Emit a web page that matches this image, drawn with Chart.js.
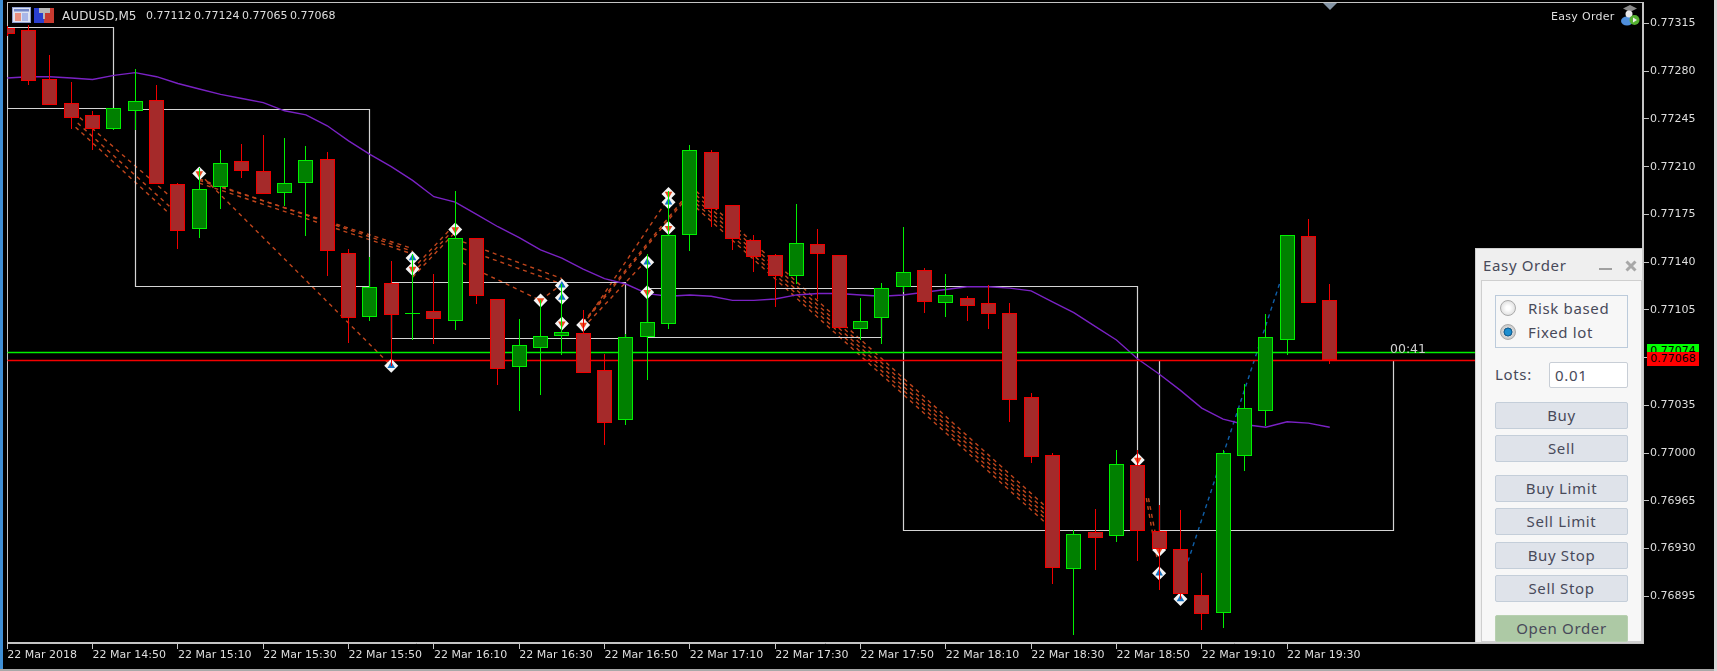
<!DOCTYPE html>
<html>
<head>
<meta charset="utf-8">
<title>AUDUSD,M5</title>
<script src="https://cdn.jsdelivr.net/npm/chart.js@4"></script>
<style>
    html, body { margin: 0; padding: 0; background: #000; }
    #wrap { position: relative; width: 1717px; height: 671px; overflow: hidden; background: #000; }
    #wrap canvas { position: absolute; left: 0; top: 0; }
    .abs { position: absolute; white-space: nowrap; }
    .chart-text { font: 11px "DejaVu Sans", sans-serif; color: #dedede; line-height: 14px; }
    .panel-text { font: 15px "Noto Sans", sans-serif; color: #484a5a; letter-spacing: 0.65px; }
    .btn { position: absolute; left: 1495px; width: 131px; height: 25px; background: #dfe3ea; border: 1px solid #c4ced9;
           border-radius: 2px; text-align: center; line-height: 24px; }
    .tag { position: absolute; left: 1647px; width: 52px; font: 11px "DejaVu Sans", sans-serif; color: #000; text-align: center; }
    .radio { position: absolute; left: 1500px; width: 16px; height: 16px; border-radius: 50%; box-sizing: border-box; border: 1px solid #aaa; }
</style>
</head>
<body>
<div id="wrap">
    <canvas id="chart" width="1717" height="671"></canvas>

    <div class="abs" style="left:0;top:0;width:3px;height:671px;background:#3f8fd6"></div>
    <div class="abs" style="left:0;top:669px;width:1717px;height:2px;background:#a8a8a8"></div>
    <div class="abs" style="left:1714px;top:0;width:3px;height:671px;background:#d8d8d8"></div>

    <svg class="abs" style="left:12px;top:7px" width="44" height="17">
        <rect x="0.5" y="0.5" width="18" height="15" fill="#dde3f2" stroke="#8f9fd0"/>
        <rect x="2" y="2" width="15" height="2.5" fill="#7186c8"/>
        <rect x="3" y="6" width="6" height="8" fill="#e88f80"/>
        <rect x="10" y="6" width="6" height="8" fill="#a9b7e8"/>
        <rect x="22" y="1" width="10" height="15" fill="#2a3fd0"/>
        <rect x="32" y="1" width="10" height="15" fill="#c83a30"/>
        <rect x="27" y="1" width="11" height="5" fill="#b8b8b8"/>
        <rect x="31" y="6" width="2" height="6" fill="#b8b8b8"/>
    </svg>
    <svg class="abs" style="left:1620px;top:4px" width="21" height="22">
        <polygon points="10,1 17,4.5 10,8 3,4.5" fill="#8a8a8a"/>
        <ellipse cx="7" cy="17" rx="6" ry="4.5" fill="#4f8fdc"/>
        <circle cx="9" cy="10" r="3.5" fill="#e8e8e8"/>
        <circle cx="14.5" cy="16" r="5" fill="#55b030"/>
        <polygon points="13,13.5 17,16 13,18.5" fill="#f0f0f0"/>
    </svg>
    <svg class="abs" style="left:1323px;top:3px" width="14" height="7"><polygon points="0,0 14,0 7,7" fill="#8494a4"/></svg>

    <div class="abs chart-text" style="left:62px;top:9px;font-size:12px;letter-spacing:0.1px">AUDUSD,M5</div>
    <div class="abs chart-text" style="left:146px;top:9px;word-spacing:-1px">0.77112 0.77124 0.77065 0.77068</div>
    <div class="abs chart-text" style="left:1551px;top:10px;letter-spacing:0.3px">Easy Order</div>
    <div class="abs chart-text" style="left:1390px;top:342px;font-size:12.5px;color:#d0d0d0">00:41</div>

    <div class="tag" style="top:344px;height:13px;line-height:13px;background:#00ff00">0.77074</div>
    <div class="tag" style="top:352px;height:14px;line-height:14px;background:#ff0000">0.77068</div>

    <div class="abs" style="left:1475px;top:248px;width:168px;height:395px;background:#efefef;border:1px solid #d0d0d0;box-sizing:border-box"></div>
    <div class="abs" style="left:1481px;top:280px;width:161px;height:362px;background:#f7f7f7;border:1px solid #cfcfcf;box-sizing:border-box"></div>
    <div class="abs panel-text" style="left:1483px;top:255px">Easy Order</div>
    <div class="abs" style="left:1599px;top:268px;width:13px;height:2px;background:#a0a0a0"></div>
    <svg class="abs" style="left:1625px;top:260px" width="12" height="12">
        <path d="M1.5 1.5 L10.5 10.5 M10.5 1.5 L1.5 10.5" stroke="#a8a8a8" stroke-width="3"/>
    </svg>

    <div class="abs" style="left:1495px;top:295px;width:133px;height:53px;border:1px solid #bccbdb;box-sizing:border-box"></div>
    <div class="radio" style="top:300px;background:radial-gradient(circle,#fff 20%,#ddd 80%)"></div>
    <div class="radio" style="top:324px;background:radial-gradient(circle,#1d8fd0 28%,#0b4f80 42%,#d8d8d8 48%,#bbb 90%)"></div>
    <div class="abs panel-text" style="left:1528px;top:298px">Risk based</div>
    <div class="abs panel-text" style="left:1528px;top:322px">Fixed lot</div>

    <div class="abs panel-text" style="left:1495px;top:364px">Lots:</div>
    <div class="abs panel-text" style="left:1549px;top:362px;width:79px;height:26px;background:#fff;border:1px solid #c8ced6;box-sizing:border-box;padding-left:5px;line-height:25px;border-radius:2px">0.01</div>

    <div class="btn panel-text" style="top:402px">Buy</div>
    <div class="btn panel-text" style="top:435px">Sell</div>
    <div class="btn panel-text" style="top:475px">Buy Limit</div>
    <div class="btn panel-text" style="top:508px">Sell Limit</div>
    <div class="btn panel-text" style="top:542px">Buy Stop</div>
    <div class="btn panel-text" style="top:575px">Sell Stop</div>
    <div class="btn panel-text" style="top:615px;background:#adc9a5;border-color:#b7d0b0">Open Order</div>
</div>

<script>
// bars are counted from 14:30, one every 5 minutes
const opens  = [0.77312,0.77310,0.77274,0.77257,0.77248,0.77238,0.77251,0.77259,0.77197,0.77164,0.77195,0.77214,0.77207,0.77191,0.77198,0.77216,0.77147,0.77100,0.77125,0.77102,0.77104,0.77097,0.77158,0.77113,0.77063,0.77077,0.77086,0.77088,0.77061,0.77024,0.77085,0.77095,0.77160,0.77221,0.77182,0.77156,0.77145,0.77130,0.77153,0.77145,0.77091,0.77099,0.77122,0.77134,0.77110,0.77114,0.77110,0.77103,0.77041,0.76999,0.76915,0.76942,0.76939,0.76991,0.76943,0.76930,0.76896,0.76883,0.76998,0.77031,0.77083,0.77159,0.77112];
const highs  = [0.77313,0.77314,0.77292,0.77272,0.77251,0.77253,0.77282,0.77270,0.77198,0.77209,0.77222,0.77227,0.77233,0.77231,0.77225,0.77221,0.77150,0.77144,0.77141,0.77146,0.77131,0.77192,0.77158,0.77113,0.77098,0.77112,0.77124,0.77105,0.77073,0.77087,0.77146,0.77192,0.77226,0.77222,0.77182,0.77160,0.77146,0.77183,0.77164,0.77145,0.77114,0.77125,0.77166,0.77136,0.77131,0.77115,0.77123,0.77110,0.77044,0.77000,0.76944,0.76959,0.77002,0.77002,0.76962,0.76958,0.76912,0.77002,0.77051,0.77102,0.77160,0.77172,0.77124];
const lows   = [0.77306,0.77270,0.77255,0.77238,0.77222,0.77237,0.77237,0.77197,0.77150,0.77158,0.77179,0.77202,0.77190,0.77181,0.77159,0.77130,0.77081,0.77097,0.77064,0.77083,0.77080,0.77090,0.77109,0.77050,0.77031,0.77043,0.77072,0.77059,0.77006,0.77021,0.77054,0.77091,0.77148,0.77166,0.77149,0.77133,0.77107,0.77124,0.77113,0.77091,0.77083,0.77080,0.77118,0.77103,0.77100,0.77097,0.77091,0.77023,0.76993,0.76904,0.76867,0.76914,0.76935,0.76921,0.76900,0.76893,0.76870,0.76872,0.76987,0.77020,0.77072,0.77110,0.77065];
const closes = [0.77307,0.77273,0.77255,0.77246,0.77238,0.77253,0.77258,0.77197,0.77163,0.77194,0.77213,0.77207,0.77190,0.77198,0.77215,0.77148,0.77099,0.77122,0.77101,0.77103,0.77098,0.77158,0.77115,0.77062,0.77079,0.77086,0.77089,0.77059,0.77022,0.77085,0.77096,0.77160,0.77222,0.77179,0.77157,0.77144,0.77130,0.77154,0.77146,0.77092,0.77097,0.77121,0.77133,0.77111,0.77116,0.77108,0.77102,0.77039,0.76997,0.76916,0.76941,0.76938,0.76992,0.76943,0.76930,0.76897,0.76882,0.77000,0.77033,0.77085,0.77160,0.77110,0.77068];
const maValues = [0.77275,0.77276,0.77276,0.77275,0.77274,0.77277,0.77279,0.77276,0.77271,0.77267,0.77263,0.77260,0.77257,0.77251,0.77248,0.77240,0.77229,0.77219,0.77210,0.77200,0.77188,0.77184,0.77175,0.77166,0.77158,0.77149,0.77143,0.77135,0.77128,0.77124,0.77117,0.77115,0.77116,0.77115,0.77112,0.77112,0.77113,0.77116,0.77117,0.77117,0.77116,0.77115,0.77116,0.77118,0.77120,0.77122,0.77122,0.77121,0.77119,0.77111,0.77103,0.77093,0.77083,0.77069,0.77058,0.77046,0.77033,0.77025,0.77021,0.77019,0.77023,0.77022,0.77019];

const timeTickIdx = [0,4,8,12,16,20,24,28,32,36,40,44,48,52,56,60];
const timeTickLabels = ['22 Mar 2018','22 Mar 14:50','22 Mar 15:10','22 Mar 15:30','22 Mar 15:50','22 Mar 16:10','22 Mar 16:30','22 Mar 16:50','22 Mar 17:10','22 Mar 17:30','22 Mar 17:50','22 Mar 18:10','22 Mar 18:30','22 Mar 18:50','22 Mar 19:10','22 Mar 19:30'];
const priceTicks = [0.77315,0.77280,0.77245,0.77210,0.77175,0.77140,0.77105,0.77070,0.77035,0.77000,0.76965,0.76930,0.76895];

const askPrice = 0.77074;
const bidPrice = 0.77068;

// white boxes between zigzag points
const boxLeft   = [0,6,18,30,42,54];
const boxRight  = [5,17,29,41,53,65];
const boxTop    = [0.77312,0.77252,0.77125,0.77121,0.77122,0.77068];
const boxBottom = [0.77253,0.77122,0.77084,0.77085,0.76943,0.76943];

// dashed order lines, orange
const sellFromIdx   = [9,9,9,9,3.3,3.4,3.2,19,19,19,21,21,21,25,27,27,27,27,32.3,32.3,32.3,32.3,32.3,53.4,53.5];
const sellFromPrice = [0.77205,0.77201,0.77200,0.77198,0.77242,0.77246,0.77239,0.77132,0.77135,0.77129,0.77157,0.77152,0.77142,0.77112,0.77094,0.77092,0.77096,0.77095,0.77192,0.77189,0.77186,0.77183,0.77180,0.76967,0.76967];
const sellToIdx     = [18,19,19,19,7.6,7.8,7.5,21,21,21,26,26,25,26,31,30,32,32,48.6,48.6,48.6,48.6,48.6,53.9,54];
const sellToPrice   = [0.77064,0.77148,0.77150,0.77146,0.77181,0.77186,0.77177,0.77165,0.77168,0.77162,0.77128,0.77124,0.77112,0.77124,0.77187,0.77142,0.77192,0.77190,0.76962,0.76959,0.76956,0.76953,0.76950,0.76923,0.76927];
// dashed order line, blue
const buyFromIdx = [55];
const buyFromPrice = [0.76904];
const buyToIdx = [60];
const buyToPrice = [0.77141];

// order arrows
const sellMarkIdx   = [9,19,21,25,26,27,30,31,31,53,54];
const sellMarkPrice = [0.77205,0.77135,0.77164,0.77112,0.77095,0.77094,0.77118,0.77190,0.77165,0.76995,0.76929];
const buyMarkIdx    = [18,19,26,26,30,31,54,55];
const buyMarkPrice  = [0.77064,0.77143,0.77123,0.77114,0.77140,0.77184,0.76912,0.76893];

const BULL_FILL = '#008000';
const BULL_LINE = '#00f000';
const BEAR_FILL = '#a52a2a';
const BEAR_LINE = '#f00000';

const isUp = i => closes[i] >= opens[i];
const lineOnly = { type: 'line', pointRadius: 0, fill: false, tension: 0 };

// MT4 draws on whole pixels, so nudge the flagged marks onto the grid
const snapPlugin = {
    id: 'snap',
    afterDatasetsUpdate(chart) {
        chart.data.datasets.forEach((ds, i) => {
            if (!ds.snap) return;
            chart.getDatasetMeta(i).data.forEach(el => {
                el.x = Math.floor(el.x) + 0.5;
                if (ds.type === 'bar') {
                    el.y = Math.round(el.y);
                    el.base = Math.round(el.base);
                } else {
                    el.y = Math.floor(el.y) + 0.5;
                }
            });
        });
    }
};

const framePlugin = {
    id: 'frame',
    beforeDatasetsDraw(chart) {
        const { ctx, chartArea: a } = chart;
        ctx.save();
        ctx.strokeStyle = '#c4c4c4';
        ctx.lineWidth = 1;
        ctx.strokeRect(7.5, 2.5, a.right - 8, a.bottom - 3);
        ctx.restore();
    }
};

const wickData = opens.map((o, i) => ({ x: i, y: [lows[i], highs[i]] }));
const bodyData = opens.map((o, i) => ({ x: i, y: [o, closes[i]] }));

const datasets = [
    ...sellFromIdx.map((x, i) => ({
        ...lineOnly, order: 6, borderColor: '#c0451c', borderWidth: 1.4, borderDash: [4, 4],
        data: [{ x, y: sellFromPrice[i] }, { x: sellToIdx[i], y: sellToPrice[i] }]
    })),
    ...buyFromIdx.map((x, i) => ({
        ...lineOnly, order: 6, borderColor: '#0f5fa8', borderWidth: 1.4, borderDash: [4, 4],
        data: [{ x, y: buyFromPrice[i] }, { x: buyToIdx[i], y: buyToPrice[i] }]
    })),
    ...boxLeft.map((l, i) => ({
        ...lineOnly, order: 5, snap: true, borderColor: '#d4d4d4', borderWidth: 1.2,
        data: [
            { x: l, y: boxTop[i] }, { x: boxRight[i], y: boxTop[i] },
            { x: boxRight[i], y: boxBottom[i] }, { x: l, y: boxBottom[i] }, { x: l, y: boxTop[i] }
        ]
    })),
    { ...lineOnly, order: 4, borderColor: '#7a22c4', borderWidth: 1.4, data: maValues.map((y, x) => ({ x, y })) },
    { ...lineOnly, order: 3, snap: true, borderColor: '#00f000', borderWidth: 1.4, data: [{ x: 0, y: askPrice }, { x: 76.7, y: askPrice }] },
    { ...lineOnly, order: 3, snap: true, borderColor: '#f40000', borderWidth: 1.4, data: [{ x: 0, y: bidPrice }, { x: 76.7, y: bidPrice }] },
    {
        type: 'scatter', order: 2.6, pointStyle: 'rectRot', pointRadius: 7, pointBackgroundColor: '#f4f4f4', pointBorderWidth: 0,
        data: [...sellMarkIdx, ...buyMarkIdx].map((x, i) => ({ x, y: [...sellMarkPrice, ...buyMarkPrice][i] }))
    },
    {
        type: 'scatter', order: 2.4, pointStyle: 'triangle', pointRadius: 4.4, pointBackgroundColor: '#e8481e', pointBorderWidth: 0, rotation: 180,
        data: sellMarkIdx.map((x, i) => ({ x, y: sellMarkPrice[i] }))
    },
    {
        type: 'scatter', order: 2.4, pointStyle: 'triangle', pointRadius: 4.4, pointBackgroundColor: '#1470c0', pointBorderWidth: 0,
        data: buyMarkIdx.map((x, i) => ({ x, y: buyMarkPrice[i] }))
    },
    {
        type: 'bar', order: 2, snap: true, grouped: false, barThickness: 1, borderWidth: 0, inflateAmount: 0,
        backgroundColor: opens.map((o, i) => isUp(i) ? BULL_LINE : BEAR_LINE),
        data: wickData
    },
    {
        type: 'bar', order: 1, snap: true, grouped: false, barThickness: 15, borderWidth: 1, borderSkipped: false, inflateAmount: 0,
        backgroundColor: opens.map((o, i) => isUp(i) ? BULL_FILL : BEAR_FILL),
        borderColor: opens.map((o, i) => isUp(i) ? BULL_LINE : BEAR_LINE),
        data: bodyData
    }
];

new Chart(document.getElementById('chart'), {
    data: { datasets },
    plugins: [snapPlugin, framePlugin],
    options: {
        responsive: false,
        animation: false,
        events: [],
        layout: { autoPadding: false, padding: { left: 7, top: 2, right: 0, bottom: 0 } },
        plugins: { legend: { display: false }, tooltip: { enabled: false } },
        scales: {
            x: {
                type: 'linear',
                offset: false,
                min: -0.014,
                max: 76.686,
                afterFit: s => { s.height = 28; s.paddingLeft = 0; s.paddingRight = 0; },
                afterBuildTicks: s => { s.ticks = timeTickIdx.map(value => ({ value })); },
                grid: { offset: false, drawOnChartArea: false, color: '#c4c4c4', tickLength: 6 },
                border: { color: '#c4c4c4' },
                ticks: {
                    color: '#dedede',
                    font: { family: '"DejaVu Sans"', size: 11 },
                    align: 'start',
                    maxRotation: 0,
                    autoSkip: false,
                    padding: 0,
                    callback: v => timeTickLabels[timeTickIdx.indexOf(v)]
                }
            },
            y: {
                position: 'right',
                min: 0.7686082,
                max: 0.7733076,
                afterFit: s => { s.width = 74; s.paddingTop = 0; s.paddingBottom = 0; },
                afterBuildTicks: s => { s.ticks = priceTicks.map(value => ({ value })); },
                grid: { drawOnChartArea: false, color: '#c4c4c4', tickLength: 6 },
                border: { color: '#c4c4c4' },
                ticks: {
                    color: '#dedede',
                    font: { family: '"DejaVu Sans"', size: 11 },
                    padding: 1,
                    autoSkip: false,
                    callback: v => v.toFixed(5)
                }
            }
        }
    }
});
</script>
</body>
</html>
